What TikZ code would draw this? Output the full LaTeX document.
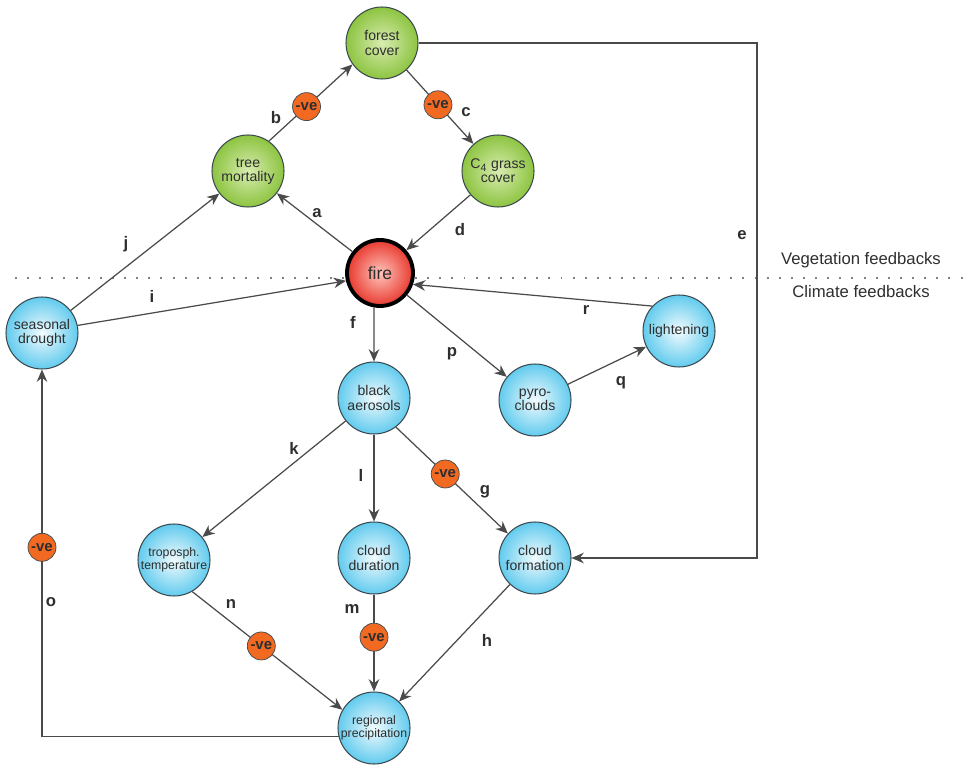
\documentclass[tikz,border=0pt]{standalone}
\usepackage{fontspec}
\setmainfont{Liberation Sans}
\usetikzlibrary{arrows.meta,calc,positioning}

\definecolor{linkgray}{HTML}{4A4A4A}
\definecolor{rimgray}{HTML}{3C4A50}
\definecolor{txtgray}{HTML}{2E2E2E}
\definecolor{veginner}{HTML}{D8ECB0}
\definecolor{vegouter}{HTML}{8DC441}
\definecolor{climinner}{HTML}{F2FBFE}
\definecolor{climouter}{HTML}{62CBEE}
\definecolor{fireinner}{HTML}{FFC4BC}
\definecolor{fireouter}{HTML}{E8392E}
\definecolor{negfill}{HTML}{F26A22}

\begin{document}
\begin{tikzpicture}[x=0.02cm,y=-0.02cm,
  factor/.style={circle,draw=rimgray,line width=0.6pt,minimum size=1.44cm,
    inner sep=0pt,align=center,text=txtgray,font=\fontsize{8}{8}\selectfont},
  small/.style={font=\fontsize{7}{7.6}\selectfont},
  veg/.style={factor,inner color=veginner,outer color=vegouter},
  clim/.style={factor,inner color=climinner,outer color=climouter},
  firenode/.style={factor,draw=black,line width=2.2pt,minimum size=1.32cm,
    inner color=fireinner,outer color=fireouter,font=\fontsize{10}{12}\selectfont},
  neg/.style={circle,fill=negfill,draw=rimgray,line width=0.4pt,minimum size=0.56cm,
    inner sep=0pt,text=txtgray,font=\bfseries\fontsize{8.5}{10}\selectfont},
  link/.style={draw=linkgray,line width=0.7pt,-{Stealth[length=7pt,width=6pt]}},
  lbl/.style={text=txtgray,font=\bfseries\fontsize{9.5}{11}\selectfont},
  zone/.style={text=txtgray,font=\fontsize{9.5}{11}\selectfont}]

\useasboundingbox (0,0) rectangle (966,766);

% feedback zones
\draw[gray,line width=1pt,dash pattern=on 1.1pt off 5.8pt] (15,278) -- (966,278);
\node[zone] (vegzone) at (861,260) {Vegetation feedbacks};
\node[zone] (climzone) at (861,292) {Climate feedbacks};
\coordinate (ecol) at (757,0);

% vegetation
\node[veg] (fc) at (382,43) {forest\\cover};
\node[veg] (tm) at (248,171) {tree\\mortality};
\node[veg] (c4) at (498,171) {C\textsubscript{4} grass\\cover};

% climate
\node[clim] (sd) at (42,333) {seasonal\\drought};
\node[clim] (lt) at (679,331) {lightening};
\node[clim] (ba) at (374,398) {black\\aerosols};
\node[clim] (pc) at (535,400) {pyro-\\clouds};
\node[clim,small] (tt) at (174,560) {troposph.\\temperature};
\node[clim] (cd) at (374,558) {cloud\\duration};
\node[clim] (cf) at (535,558) {cloud\\formation};
\node[clim,small] (rp) at (374,728) {regional\\precipitation};

\node[firenode] (fire) at (380,273) {fire};

% links
\draw[link] (fire) -- (tm);
\draw[link] (tm.55) -- node[neg,pos=0.45] (negb) {-ve} (fc.216);
\draw[link] (fc) -- node[neg,pos=0.47] (negc) {-ve} (c4);
\draw[link] (c4) -- (fire);
\draw[link] (fc.east) -- (fc.east -| ecol) -- (cf.east -| ecol) -- (cf.east);
\draw[link] (fire.-100) -- (ba);
\draw[link] (ba.-53) -- node[neg,pos=0.44] (negg) {-ve} (cf.138);
\draw[link] (cf) -- (rp);
\draw[link] (sd.12) -- (fire.193);
\draw[link] (sd) -- (tm);
\draw[link] (ba) -- (tt);
\draw[link] (ba) -- (cd);
\draw[link] (cd) -- node[neg,pos=0.44] (negm) {-ve} (rp);
\draw[link] (tt.-60) -- node[neg,pos=0.46] (negn) {-ve} (rp.150);
\draw[link] (rp.194) -| node[neg,pos=0.758] (nego) {-ve} (sd.south);
\draw[link] (fire) -- (pc);
\draw[link] (pc) -- (lt);
\draw[link] (lt.137) -- (fire.-19);

% link letters
\node[lbl] (la) at (317,213) {a};
\node[lbl] (lb) at (276,118) {b};
\node[lbl] (lc) at (466,112) {c};
\node[lbl] (ld) at (460,230) {d};
\node[lbl] (le) at (742,235) {e};
\node[lbl] (lf) at (353,322) {f};
\node[lbl] (lg) at (485,492) {g};
\node[lbl] (lh) at (487,640) {h};
\node[lbl] (li) at (152,296) {i};
\node[lbl] (lj) at (126,244) {j};
\node[lbl] (lk) at (294,448) {k};
\node[lbl] (ll) at (361,475) {l};
\node[lbl] (lm) at (352,609) {m};
\node[lbl] (ln) at (231,604) {n};
\node[lbl] (lo) at (51,602) {o};
\node[lbl] (lp) at (452,354) {p};
\node[lbl] (lq) at (621,383) {q};
\node[lbl] (lr) at (586,310) {r};

\end{tikzpicture}
\end{document}
